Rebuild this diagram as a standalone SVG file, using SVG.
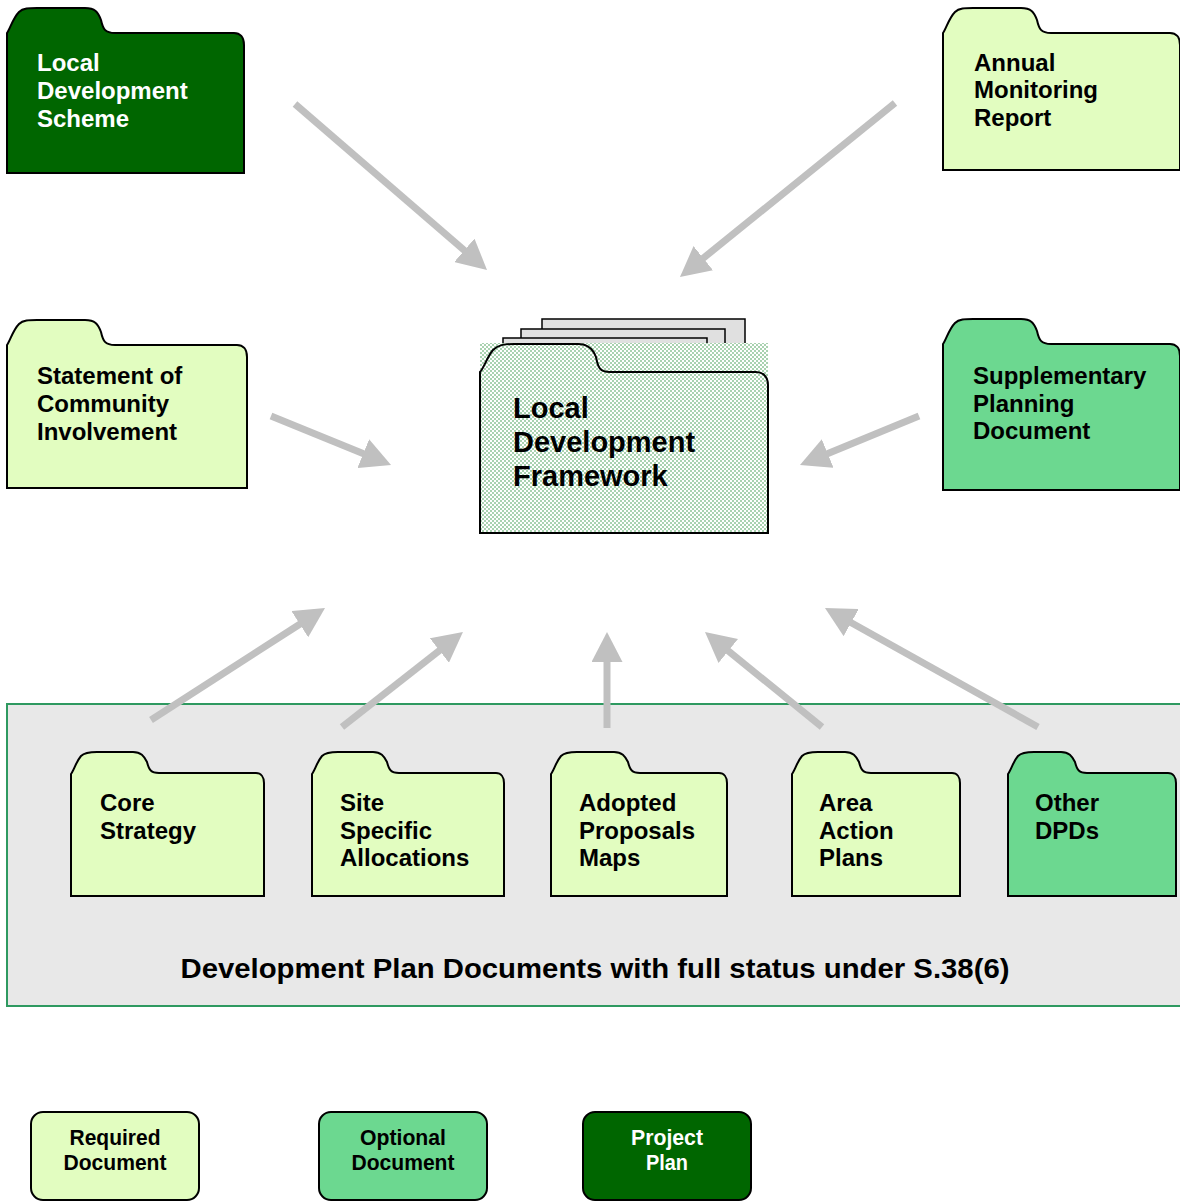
<svg xmlns="http://www.w3.org/2000/svg" width="1180" height="1202" viewBox="0 0 1180 1202">
<style>
.req{fill:#e2fdc0;stroke:#000;stroke-width:2}
.opt{fill:#6cd890;stroke:#000;stroke-width:2}
.prj{fill:#006600;stroke:#000;stroke-width:2}
.t{font-family:"Liberation Sans",Arial,sans-serif;font-weight:bold;font-size:24px;fill:#000}
.tw{fill:#fff}
.big{font-size:29px}
.leg{font-family:"Liberation Sans",Arial,sans-serif;font-weight:bold;font-size:22px;text-anchor:middle}
.arr{stroke:#c0c0c0;stroke-width:7;fill:none;marker-end:url(#ah)}
.page{fill:#e0e0e0;stroke:#000;stroke-width:1.5}
</style>
<defs>
<marker id="ah" viewBox="0 0 30 31" refX="5" refY="15.5" markerWidth="30" markerHeight="31" markerUnits="userSpaceOnUse" orient="auto">
<path d="M0,0 L30,15.5 L0,31 Z" fill="#c0c0c0"/>
</marker>
<pattern id="dots" width="4" height="4" patternUnits="userSpaceOnUse">
<rect width="4" height="4" fill="#fff"/>
<circle cx="1" cy="1" r="0.8" fill="#3c9a4c"/>
<circle cx="3" cy="3" r="0.8" fill="#3c9a4c"/>
</pattern>
</defs>
<rect width="1180" height="1202" fill="#fff"/>

<g id="dpd-panel">
<rect x="7" y="704" width="1200" height="302" fill="#e8e8e8" stroke="#2e9960" stroke-width="2"/>
<text class="t" x="595" y="978" text-anchor="middle" textLength="829" lengthAdjust="spacingAndGlyphs" style="font-size:27px">Development Plan Documents with full status under S.38(6)</text>
</g>

<g id="lds">
<path class="prj" transform="translate(7,8)" d="M0,25 C3,21 6,10 12,4 C16,0 22,0 30,0 L78,0 C88,0 91,4 94,12 C96,21 98,25 108,25 L227,25 C233,25 237,29 237,37 L237,165 L0,165 Z"/>
<text class="t tw" x="37" y="71">Local</text>
<text class="t tw" x="37" y="99">Development</text>
<text class="t tw" x="37" y="127">Scheme</text>
</g>

<g id="amr">
<path class="req" transform="translate(943,8)" d="M0,25 C3,21 6,10 12,4 C16,0 22,0 30,0 L78,0 C88,0 91,4 94,12 C96,21 98,25 108,25 L227,25 C233,25 237,29 237,37 L237,162 L0,162 Z"/>
<text class="t" x="974" y="71">Annual</text>
<text class="t" x="974" y="98">Monitoring</text>
<text class="t" x="974" y="126">Report</text>
</g>

<g id="sci">
<path class="req" transform="translate(7,320)" d="M0,25 C3,21 6,10 12,4 C16,0 22,0 30,0 L78,0 C88,0 91,4 94,12 C96,21 98,25 108,25 L230,25 C236,25 240,29 240,37 L240,168 L0,168 Z"/>
<text class="t" x="37" y="384">Statement of</text>
<text class="t" x="37" y="412">Community</text>
<text class="t" x="37" y="440">Involvement</text>
</g>

<g id="spd">
<path class="opt" transform="translate(943,319)" d="M0,25 C3,21 6,10 12,4 C16,0 22,0 30,0 L78,0 C88,0 91,4 94,12 C96,21 98,25 108,25 L227,25 C233,25 237,29 237,37 L237,171 L0,171 Z"/>
<text class="t" x="973" y="384">Supplementary</text>
<text class="t" x="973" y="412">Planning</text>
<text class="t" x="973" y="439">Document</text>
</g>

<g id="ldf">
<rect class="page" x="542" y="319" width="203" height="40"/>
<rect class="page" x="521" y="329" width="204" height="40"/>
<rect class="page" x="503" y="338" width="204" height="40"/>
<rect x="480" y="343" width="288" height="190" fill="url(#dots)"/>
<path transform="translate(480,343)" fill="none" stroke="#000" stroke-width="2" d="M0,29 C4,25 7,14 13,7 C18,2 24,1 34,1 L98,1 C108,1 113,6 116,14 C118,25 120,29 130,29 L276,29 C283,29 288,34 288,42 L288,190 L0,190 Z"/>
<text class="t big" x="513" y="418">Local</text>
<text class="t big" x="513" y="452">Development</text>
<text class="t big" x="513" y="486">Framework</text>
</g>

<g id="core-strategy">
<path class="req" transform="translate(71,752)" d="M0,22 C3,18 5,10 10,4 C13,1 18,0 26,0 L62,0 C70,0 73,4 76,10 C78,18 80,21 88,21 L185,21 C190,21 193,25 193,31 L193,144 L0,144 Z"/>
<text class="t" x="100" y="811">Core</text>
<text class="t" x="100" y="839">Strategy</text>
</g>

<g id="site-specific">
<path class="req" transform="translate(312,752)" d="M0,22 C3,18 5,10 10,4 C13,1 18,0 26,0 L61,0 C69,0 72,4 75,10 C77,18 79,21 87,21 L184,21 C189,21 192,25 192,31 L192,144 L0,144 Z"/>
<text class="t" x="340" y="811">Site</text>
<text class="t" x="340" y="839">Specific</text>
<text class="t" x="340" y="866">Allocations</text>
</g>

<g id="adopted-maps">
<path class="req" transform="translate(551,752)" d="M0,22 C3,18 5,10 10,4 C13,1 18,0 26,0 L63,0 C71,0 74,4 77,10 C79,18 81,21 89,21 L168,21 C173,21 176,25 176,31 L176,144 L0,144 Z"/>
<text class="t" x="579" y="811">Adopted</text>
<text class="t" x="579" y="839">Proposals</text>
<text class="t" x="579" y="866">Maps</text>
</g>

<g id="area-action">
<path class="req" transform="translate(792,752)" d="M0,22 C3,18 5,10 10,4 C13,1 18,0 26,0 L53,0 C61,0 64,4 67,10 C69,18 71,21 79,21 L160,21 C165,21 168,25 168,31 L168,144 L0,144 Z"/>
<text class="t" x="819" y="811">Area</text>
<text class="t" x="819" y="839">Action</text>
<text class="t" x="819" y="866">Plans</text>
</g>

<g id="other-dpds">
<path class="opt" transform="translate(1008,752)" d="M0,22 C3,18 5,10 10,4 C13,1 18,0 26,0 L53,0 C61,0 64,4 67,10 C69,18 71,21 79,21 L160,21 C165,21 168,25 168,31 L168,144 L0,144 Z"/>
<text class="t" x="1035" y="811">Other</text>
<text class="t" x="1035" y="839">DPDs</text>
</g>

<g id="connectors">
<line class="arr" x1="295" y1="104" x2="468.1" y2="253.6"/>
<line class="arr" x1="895" y1="103" x2="699.4" y2="261.3"/>
<line class="arr" x1="271" y1="416" x2="367.9" y2="455.5"/>
<line class="arr" x1="919" y1="416" x2="823.1" y2="455.5"/>
<line class="arr" x1="151" y1="720" x2="304" y2="621.5"/>
<line class="arr" x1="342" y1="727" x2="443.3" y2="647.4"/>
<line class="arr" x1="607" y1="728" x2="607" y2="657"/>
<line class="arr" x1="822" y1="727" x2="724.4" y2="647.8"/>
<line class="arr" x1="1038" y1="727" x2="846.8" y2="620.2"/>
</g>

<g id="legend-required">
<rect class="req" x="31" y="1112" width="168" height="88" rx="12"/>
<text class="leg" x="115" y="1145" textLength="91" lengthAdjust="spacingAndGlyphs">Required</text>
<text class="leg" x="115" y="1170" textLength="103" lengthAdjust="spacingAndGlyphs">Document</text>
</g>
<g id="legend-optional">
<rect class="opt" x="319" y="1112" width="168" height="88" rx="12"/>
<text class="leg" x="403" y="1145" textLength="86" lengthAdjust="spacingAndGlyphs">Optional</text>
<text class="leg" x="403" y="1170" textLength="103" lengthAdjust="spacingAndGlyphs">Document</text>
</g>
<g id="legend-project">
<rect class="prj" x="583" y="1112" width="168" height="88" rx="12"/>
<text class="leg" x="667" y="1145" fill="#fff" textLength="72" lengthAdjust="spacingAndGlyphs">Project</text>
<text class="leg" x="667" y="1170" fill="#fff" textLength="42" lengthAdjust="spacingAndGlyphs">Plan</text>
</g>
</svg>
